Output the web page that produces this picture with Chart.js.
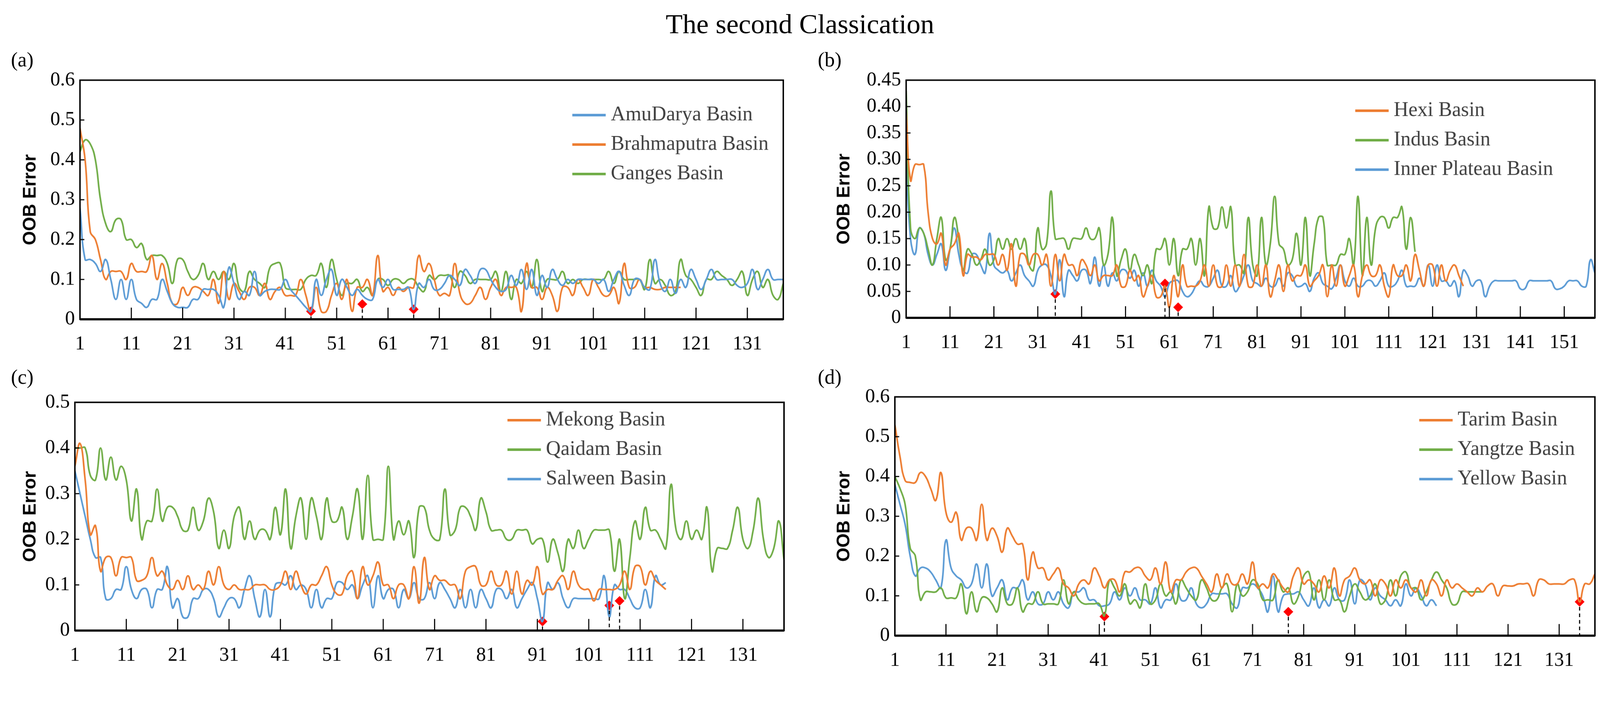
<!DOCTYPE html>
<html>
<head>
<meta charset="utf-8">
<script src="https://cdn.jsdelivr.net/npm/chart.js@4"></script>
<style>
  html, body { margin: 0; padding: 0; background: #fff; overflow: hidden; }
  #page { width: 4402px; height: 1850px; position: relative; transform-origin: 0 0; font-family: "Liberation Serif", serif; }
  .box { position: absolute; }
  .lbl { position: absolute; font-size: 56px; color: #000; }
  #title { position: absolute; left: 0; width: 4402px; top: 22px; text-align: center; font-size: 76px; }
</style>
</head>
<body>
<div id="page">
<div id="title">The second Classication</div>
<div class="lbl" style="left:30px;top:132px">(a)</div>
<div class="lbl" style="left:2250px;top:132px">(b)</div>
<div class="lbl" style="left:30px;top:1004px">(c)</div>
<div class="lbl" style="left:2250px;top:1004px">(d)</div>
<div class="box" style="left:0;top:174px;width:2200px;height:816px"><canvas id="ca"></canvas></div>
<div class="box" style="left:2230px;top:174px;width:2172px;height:816px"><canvas id="cb"></canvas></div>
<div class="box" style="left:0;top:1060px;width:2200px;height:790px"><canvas id="cc"></canvas></div>
<div class="box" style="left:2230px;top:1045px;width:2172px;height:805px"><canvas id="cd"></canvas></div>
</div>
<script>
// fit the 4402x1850 page into whatever the viewport really is
document.getElementById('page').style.transform = 'scale(' + (window.innerWidth / 4402) + ')';

const BLUE = '#5B9BD5', ORANGE = '#ED7D31', GREEN = '#70AD47';

// (a)
const amuDarya = [.28,.15,.15,.14,.12,.15,.10,.05,.10,.05, .10,.05,.04,.03,.05,.05,.10,.07,.04,.03,
  .03,.03,.05,.05,.075,.075,.075,.06,.03,.13, .09,.05,.07,.06,.12,.06,.07,.075,.075,.075,
  .10,.075,.06,.045,.03,.02,.10,.06,.10,.125, .06,.10,.08,.06,.075,.06,.05,.05,.10,.08,
  .10,.075,.075,.075,.08,.025,.09,.08,.10,.075, .075,.09,.11,.10,.085,.125,.11,.09,.125,.125,
  .10,.08,.07,.075,.11,.085,.125,.075,.125,.06, .11,.08,.125,.10,.085,.10,.09,.10,.10,.10,
  .10,.09,.10,.07,.10,.12,.085,.06,.10,.10, .08,.075,.15,.09,.07,.10,.065,.10,.08,.125,
  .10,.075,.10,.125,.10,.10,.10,.10,.085,.08, .09,.125,.075,.10,.125,.10,.10,.10];
const brahmaputra = [.48,.40,.22,.20,.15,.10,.12,.12,.12,.10, .14,.12,.12,.12,.16,.10,.14,.09,.04,.04,
  .08,.06,.08,.08,.07,.06,.10,.04,.12,.05, .09,.07,.05,.08,.08,.06,.09,.05,.07,.08,
  .06,.06,.06,.10,.06,.02,.08,.02,.02,.06, .09,.05,.10,.02,.08,.08,.10,.06,.16,.07,
  .08,.06,.08,.07,.08,.08,.16,.12,.14,.10, .06,.065,.06,.14,.065,.04,.04,.06,.08,.05,
  .08,.10,.06,.08,.08,.08,.02,.14,.08,.08, .05,.08,.06,.02,.08,.08,.06,.10,.08,.06,
  .10,.08,.06,.06,.08,.04,.14,.08,.08,.10, .08,.08,.075,.075,.08,.08,.08,.08];
const ganges = [.42,.45,.44,.40,.30,.24,.22,.25,.25,.20, .20,.18,.19,.15,.16,.16,.16,.14,.09,.15,
  .15,.12,.10,.11,.14,.10,.12,.10,.12,.10, .14,.08,.07,.12,.10,.09,.08,.13,.14,.14,
  .08,.075,.075,.075,.10,.11,.11,.14,.08,.15, .10,.06,.09,.09,.10,.07,.08,.06,.10,.10,
  .085,.10,.10,.09,.10,.10,.08,.07,.11,.10, .11,.11,.11,.08,.12,.11,.09,.10,.10,.10,
  .10,.12,.07,.12,.05,.10,.09,.12,.08,.15, .07,.10,.10,.10,.12,.09,.10,.09,.10,.10,
  .10,.10,.10,.12,.09,.12,.10,.10,.10,.10, .075,.15,.09,.10,.085,.06,.07,.15,.11,.10,
  .08,.06,.10,.10,.12,.11,.10,.085,.10,.12, .06,.10,.12,.08,.10,.06,.05,.09];
const markA_x = [46, 56, 66], markA_y = [.02, .038, .025];

// (b)
const hexi = [.39,.26,.29,.29,.29,.20,.15,.14,.16,.10, .13,.14,.16,.08,.12,.115,.115,.11,.12,.12,
  .12,.10,.12,.09,.14,.06,.12,.12,.10,.12, .12,.10,.12,.06,.12,.07,.12,.10,.10,.08,
  .11,.10,.08,.10,.07,.08,.08,.08,.10,.06, .06,.09,.07,.08,.04,.06,.08,.04,.04,.06,
  .02,.08,.04,.10,.06,.06,.06,.07,.10,.06, .10,.06,.06,.10,.06,.10,.06,.12,.06,.06,
  .10,.06,.10,.04,.07,.10,.05,.10,.07,.08, .08,.10,.06,.07,.08,.10,.04,.10,.06,.10,
  .06,.08,.10,.04,.08,.10,.08,.08,.10,.06, .04,.10,.08,.08,.10,.07,.12,.09,.06,.10,
  .10,.06,.10,.07,.09,.10,.08,.06];
const indus = [.43,.17,.15,.17,.16,.13,.10,.15,.19,.11, .13,.19,.15,.09,.13,.12,.10,.11,.13,.10,
  .11,.15,.13,.15,.13,.15,.13,.15,.10,.09, .17,.13,.14,.24,.15,.15,.15,.13,.15,.15,
  .15,.17,.15,.15,.17,.10,.12,.19,.08,.11, .13,.09,.12,.10,.08,.10,.065,.13,.13,.15,
  .10,.15,.08,.13,.13,.15,.10,.15,.08,.21, .17,.17,.21,.17,.21,.10,.10,.085,.19,.10,
  .08,.19,.10,.14,.23,.14,.13,.10,.11,.16, .10,.19,.08,.14,.19,.19,.10,.10,.10,.12,
  .12,.15,.10,.23,.08,.19,.10,.17,.19,.19, .17,.19,.19,.21,.13,.19,.125];
const innerPlateau = [.30,.15,.12,.17,.16,.12,.10,.12,.14,.09, .13,.17,.12,.09,.085,.12,.12,.10,.085,.16,
  .10,.09,.085,.09,.07,.085,.10,.08,.07,.06, .09,.10,.10,.08,.045,.11,.04,.09,.08,.07,
  .09,.09,.065,.115,.06,.10,.06,.085,.07,.09, .09,.075,.09,.06,.085,.06,.09,.07,.06,.04,
  .065,.07,.07,.05,.04,.045,.06,.07,.06,.06, .075,.09,.06,.06,.08,.05,.06,.08,.10,.07,
  .065,.06,.075,.06,.06,.075,.06,.085,.08,.06, .06,.065,.05,.075,.085,.065,.06,.055,.075,.10,
  .07,.06,.075,.06,.06,.07,.07,.06,.07,.085, .06,.06,.07,.09,.06,.06,.06,.075,.06,.10,
  .06,.10,.07,.07,.06,.07,.04,.09,.08,.06, .07,.07,.04,.06,.07,.07,.07,.07,.07,.07,
  .055,.055,.07,.07,.07,.07,.07,.07,.055,.055, .06,.07,.07,.07,.06,.06,.11,.085];
const markB_x = [35, 60, 63], markB_y = [.045, .065, .02];

// (c)
const mekong = [.36,.41,.33,.21,.23,.13,.16,.16,.12,.16, .16,.16,.11,.11,.12,.16,.12,.13,.10,.09,
  .11,.09,.12,.09,.10,.09,.13,.10,.14,.10, .09,.10,.09,.09,.09,.10,.10,.10,.09,.09,
  .10,.13,.09,.13,.10,.08,.10,.10,.12,.14, .10,.08,.08,.12,.13,.07,.14,.10,.12,.15,
  .10,.10,.07,.10,.10,.07,.14,.06,.16,.09, .12,.11,.11,.10,.10,.07,.13,.14,.14,.10,
  .10,.13,.10,.10,.13,.08,.13,.08,.11,.10, .14,.08,.09,.09,.11,.12,.09,.13,.10,.09,
  .09,.065,.09,.09,.09,.09,.10,.13,.09,.14, .14,.10,.13,.11,.10,.09];
const qaidam = [.40,.40,.40,.34,.33,.40,.33,.38,.33,.36, .33,.24,.31,.20,.24,.24,.31,.24,.27,.27,
  .25,.22,.22,.27,.22,.24,.29,.26,.18,.22, .18,.25,.27,.20,.24,.20,.22,.22,.20,.27,
  .21,.31,.18,.25,.29,.20,.29,.25,.20,.29, .24,.24,.27,.20,.25,.31,.20,.34,.20,.20,
  .20,.36,.20,.24,.21,.24,.16,.27,.27,.22, .20,.20,.31,.21,.22,.27,.27,.25,.22,.29,
  .26,.22,.22,.22,.20,.20,.22,.22,.22,.19, .20,.20,.15,.20,.17,.13,.20,.18,.22,.18,
  .20,.22,.22,.22,.22,.13,.20,.07,.16,.24, .20,.27,.22,.22,.20,.18,.32,.22,.20,.24,
  .20,.22,.20,.27,.13,.18,.18,.18,.22,.27, .20,.18,.22,.29,.20,.16,.18,.24,.155];
const salween = [.35,.30,.25,.20,.16,.16,.07,.07,.09,.09, .14,.09,.07,.09,.09,.05,.09,.09,.14,.05,
  .07,.03,.03,.07,.07,.09,.09,.07,.03,.05, .07,.07,.05,.09,.12,.07,.03,.09,.03,.10,
  .105,.10,.12,.09,.10,.09,.05,.09,.05,.07, .07,.105,.105,.09,.10,.07,.10,.12,.05,.12,
  .07,.09,.09,.05,.09,.07,.105,.07,.07,.105, .07,.105,.09,.07,.05,.09,.05,.09,.05,.09,
  .07,.05,.09,.09,.07,.09,.05,.07,.09,.105, .07,.02,.105,.09,.105,.07,.05,.07,.07,.07,
  .07,.07,.07,.12,.03,.10,.09,.09,.07,.05, .05,.09,.05,.12,.10,.105];
const markC_x = [92, 105, 107], markC_y = [.02, .055, .065];

// (d)
const tarim = [.53,.45,.39,.385,.385,.41,.40,.37,.34,.41, .31,.285,.31,.24,.27,.27,.24,.33,.24,.27,
  .25,.21,.27,.25,.23,.23,.14,.21,.17,.17, .14,.155,.17,.13,.12,.10,.13,.14,.13,.17,
  .15,.12,.14,.14,.11,.16,.16,.17,.17,.15, .14,.17,.13,.185,.11,.14,.14,.16,.17,.17,
  .15,.13,.11,.155,.12,.155,.13,.13,.155,.13, .185,.12,.13,.12,.155,.14,.12,.11,.15,.17,
  .13,.14,.13,.11,.15,.12,.17,.10,.14,.15, .17,.14,.13,.14,.10,.14,.13,.10,.14,.12,
  .14,.12,.11,.14,.10,.14,.13,.10,.14,.12, .13,.12,.11,.10,.12,.11,.125,.13,.10,.125,
  .125,.125,.13,.13,.13,.10,.14,.14,.13,.13, .13,.13,.14,.14,.085,.13,.13,.155];
const yangtze = [.40,.37,.33,.22,.20,.09,.11,.11,.11,.12, .095,.095,.095,.13,.055,.11,.06,.095,.095,.08,
  .06,.12,.08,.08,.12,.06,.08,.08,.11,.08, .08,.08,.08,.14,.08,.11,.09,.08,.08,.08,
  .08,.05,.14,.12,.10,.13,.08,.09,.07,.13, .08,.09,.13,.10,.11,.08,.14,.12,.10,.09,
  .14,.12,.09,.09,.12,.13,.06,.13,.10,.11, .14,.13,.09,.09,.09,.14,.11,.12,.08,.10,
  .15,.16,.09,.14,.09,.14,.09,.09,.06,.10, .13,.11,.09,.10,.13,.08,.09,.14,.10,.15,
  .16,.12,.12,.09,.11,.14,.16,.14,.12,.08, .08,.11,.11,.11,.11,.11];
const yellow = [.38,.33,.28,.20,.15,.17,.17,.16,.14,.12, .24,.17,.15,.14,.12,.13,.18,.12,.18,.10,
  .12,.14,.09,.12,.12,.14,.09,.11,.08,.08, .11,.09,.11,.08,.07,.11,.11,.12,.09,.09,
  .075,.075,.08,.11,.09,.12,.10,.12,.09,.09, .08,.12,.07,.09,.09,.13,.09,.09,.12,.08,
  .07,.08,.105,.105,.105,.105,.08,.07,.12,.12, .13,.12,.10,.06,.15,.06,.10,.105,.105,.11,
  .09,.075,.12,.07,.09,.075,.12,.09,.09,.14, .08,.14,.13,.09,.12,.10,.09,.075,.09,.075,
  .13,.10,.12,.10,.075,.09,.075];
const markD_x = [42, 78, 135], markD_y = [.048, .06, .085];

const xTicksA = [1,11,21,31,41,51,61,71,81,91,101,111,121,131];
const xTicksB = [1,11,21,31,41,51,61,71,81,91,101,111,121,131,141,151];
const yTicksA = [0,0.1,0.2,0.3,0.4,0.5,0.6];
const yTicksB = [0,0.05,0.1,0.15,0.2,0.25,0.3,0.35,0.4,0.45];
const yTicksC = [0,0.1,0.2,0.3,0.4,0.5];

const FONT = "'Liberation Serif', 'Times New Roman', serif";

const framePlugin = {
  id: 'frame',
  afterDatasetsDraw(chart, args, opts) {
    const { ctx, chartArea: a, scales } = chart;
    ctx.save();
    // dashed drop lines under the minima markers
    ctx.strokeStyle = '#000'; ctx.lineWidth = 3; ctx.setLineDash([10, 8]);
    opts.mx.forEach((v, i) => {
      const px = scales.x.getPixelForValue(v), py = scales.y.getPixelForValue(opts.my[i]);
      ctx.beginPath(); ctx.moveTo(px, py + 14); ctx.lineTo(px, a.bottom); ctx.stroke();
    });
    ctx.setLineDash([]);
    // inward ticks
    ctx.lineWidth = 3;
    opts.xt.forEach(v => {
      if (v === opts.xt[0]) return;
      const px = scales.x.getPixelForValue(v);
      ctx.beginPath(); ctx.moveTo(px, a.bottom); ctx.lineTo(px, a.bottom - 32); ctx.stroke();
    });
    opts.yt.forEach(v => {
      const py = scales.y.getPixelForValue(v);
      ctx.beginPath(); ctx.moveTo(a.left, py); ctx.lineTo(a.left + 12, py); ctx.stroke();
    });
    ctx.lineWidth = 4;
    ctx.strokeRect(a.left, a.top, a.right - a.left, a.bottom - a.top);
    ctx.lineWidth = 6;
    ctx.beginPath(); ctx.moveTo(a.left, a.bottom); ctx.lineTo(a.right, a.bottom); ctx.stroke();
    // legend
    ctx.font = '56px ' + FONT; ctx.textBaseline = 'middle';
    opts.legend.forEach((it, i) => {
      const lx = a.left + (a.right - a.left) * opts.lx, ly = a.top + opts.ly + i * 81;
      ctx.strokeStyle = it.color; ctx.lineWidth = 7;
      ctx.beginPath(); ctx.moveTo(lx, ly); ctx.lineTo(lx + 92, ly); ctx.stroke();
      ctx.fillStyle = '#404040';
      ctx.fillText(it.label, lx + 106, ly);
    });
    ctx.restore();
  }
};

function series(label, color, vals) {
  return { label, borderColor: color, borderWidth: 4.5, pointRadius: 0, tension: 0.45,
    data: vals.map((v, i) => ({ x: i + 1, y: v })) };
}

function makeChart(id, cfg) {
  const sets = cfg.series.map(s => series(s[0], s[1], s[2]));
  sets.push({ label: 'min', showLine: false, pointStyle: 'rectRot', pointRadius: 13,
    backgroundColor: '#FF0000', borderColor: '#FF0000',
    data: cfg.mx.map((v, i) => ({ x: v, y: cfg.my[i] })) });
  new Chart(document.getElementById(id), {
    type: 'line',
    data: { datasets: sets },
    plugins: [framePlugin],
    options: {
      responsive: true, maintainAspectRatio: false, animation: false,
      layout: { padding: { top: 0, right: cfg.rp, left: 0, bottom: 0 } },
      plugins: {
        legend: { display: false }, tooltip: { enabled: false },
        frame: { mx: cfg.mx, my: cfg.my, xt: cfg.xt, yt: cfg.yt, lx: cfg.lx, ly: cfg.ly,
          legend: cfg.series.map(s => ({ label: s[0], color: s[1] })) }
      },
      scales: {
        x: { type: 'linear', min: 1, max: cfg.xmax,
          grid: { display: false, drawTicks: false }, border: { display: false },
          afterBuildTicks: s => { s.ticks = cfg.xt.map(v => ({ value: v })); },
          afterFit: s => { s.height = cfg.xh; },
          ticks: { color: '#000', font: { family: FONT, size: 54 }, padding: 36, maxRotation: 0, autoSkip: false } },
        y: { min: 0, max: cfg.ymax,
          grid: { display: false, drawTicks: false }, border: { display: false },
          afterBuildTicks: s => { s.ticks = cfg.yt.map(v => ({ value: v })); },
          afterFit: s => { s.width = cfg.yw; },
          ticks: { color: '#000', font: { family: FONT, size: 54 }, padding: 14 },
          title: { display: true, text: 'OOB Error', color: '#000',
            font: { family: "'Liberation Sans', Arial, sans-serif", size: 50, weight: 'bold' },
            padding: { top: cfg.tp, bottom: 0 } } }
      }
    }
  });
}

makeChart('ca', { series: [['AmuDarya Basin', BLUE, amuDarya], ['Brahmaputra Basin', ORANGE, brahmaputra], ['Ganges Basin', GREEN, ganges]],
  mx: markA_x, my: markA_y, xt: xTicksA, yt: yTicksA, xmax: 138, ymax: 0.6,
  rp: 45, yw: 220, xh: 112, tp: 54, lx: 0.70, ly: 96 });
makeChart('cb', { series: [['Hexi Basin', ORANGE, hexi], ['Indus Basin', GREEN, indus], ['Inner Plateau Basin', BLUE, innerPlateau]],
  mx: markB_x, my: markB_y, xt: xTicksB, yt: yTicksB, xmax: 158, ymax: 0.45,
  rp: 11, yw: 263, xh: 116, tp: 63, lx: 0.652, ly: 84 });
makeChart('cc', { series: [['Mekong Basin', ORANGE, mekong], ['Qaidam Basin', GREEN, qaidam], ['Salween Basin', BLUE, salween]],
  mx: markC_x, my: markC_y, xt: xTicksA, yt: yTicksC, xmax: 139, ymax: 0.5,
  rp: 43, yw: 206, xh: 116, tp: 54, lx: 0.61, ly: 49 });
makeChart('cd', { series: [['Tarim Basin', ORANGE, tarim], ['Yangtze Basin', GREEN, yangtze], ['Yellow Basin', BLUE, yellow]],
  mx: markD_x, my: markD_y, xt: xTicksA, yt: yTicksA, xmax: 138, ymax: 0.6,
  rp: 11, yw: 232, xh: 102, tp: 63, lx: 0.749, ly: 64 });
</script>
</body>
</html>
